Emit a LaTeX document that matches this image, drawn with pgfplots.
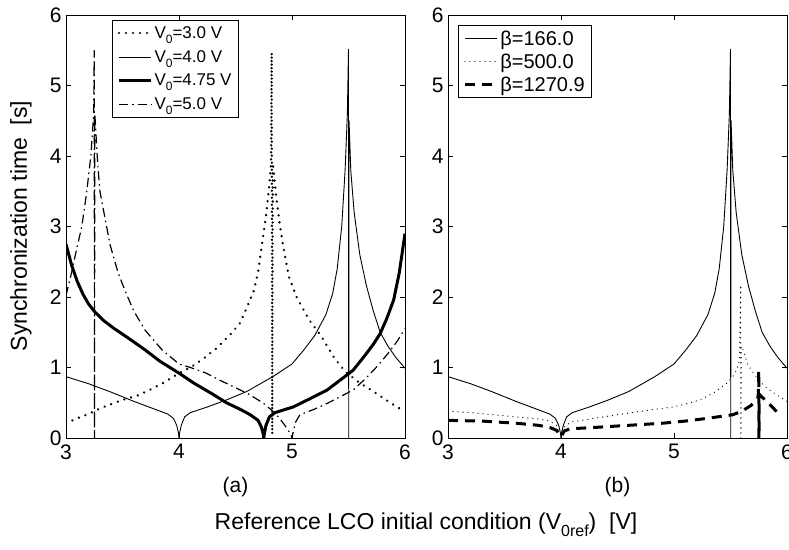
\documentclass[border=0pt]{standalone}
\usepackage{fontspec}
\setmainfont{Liberation Sans}
\usepackage{pgfplots}
\pgfplotsset{compat=1.18}

\newcommand\sub[1]{\raisebox{-0.55ex}{\fontsize{12}{12}\selectfont #1}}
\newcommand\bigsub[1]{\raisebox{-0.55ex}{\fontsize{16}{16}\selectfont #1}}

\pgfplotsset{
  panel/.style={
    scale only axis, width=339pt, height=423pt,
    xmin=3, xmax=6, ymin=0, ymax=6,
    xtick={3,4,5,6}, ytick={0,1,2,3,4,5,6},
    tick align=inside, major tick length=5pt,
    axis line style={line width=0.8pt},
    every tick/.style={black, line width=0.8pt},
    /pgf/number format/assume math mode=true,
    tick label style={font=\fontsize{21}{21}\selectfont},
    xticklabel style={yshift=-3pt},
    yticklabel style={xshift=-1pt},
    xlabel style={font=\fontsize{21}{21}\selectfont, at={(axis description cs:0.5,0)}, anchor=center, yshift=-49pt},
    legend cell align=left,
    legend image code/.code={\draw[##1] (0pt,0pt) -- (32pt,0pt);},
    legend style={draw=black, line width=0.8pt, fill=white,
      inner xsep=4pt, inner ysep=3pt},
  },
  thin/.style={black, line width=0.9pt},
  thick/.style={black, line width=3pt},
  bigdots/.style={black, line width=2.6pt, line cap=round, dash pattern=on 0.01pt off 7pt},
  finedots/.style={black, line width=1.3pt, line cap=round, dash pattern=on 0.01pt off 5pt},
  dashdot/.style={black, line width=1.2pt, dash pattern=on 9pt off 4pt on 1.5pt off 4pt},
  longdash/.style={black, line width=3pt, dash pattern=on 10pt off 7pt},
}

% synchronization time curves
\pgfplotstableread{
x y
3.00 0.21
3.10 0.28
3.20 0.34
3.30 0.42
3.40 0.48
3.50 0.54
3.63 0.60
3.75 0.69
3.86 0.78
4.00 0.92
4.11 1.01
4.22 1.13
4.33 1.27
4.45 1.46
4.54 1.63
4.60 1.85
4.66 2.08
4.70 2.35
4.73 2.70
4.77 3.15
4.80 3.60
4.815 3.90
4.82 5.47
4.825 0.05
4.83 3.90
4.86 3.43
4.89 3.05
4.92 2.74
4.97 2.30
5.04 2.00
5.15 1.68
5.26 1.44
5.38 1.12
5.48 0.93
5.60 0.78
5.75 0.63
5.87 0.50
5.97 0.40
6.00 0.37
}\vthree

\pgfplotstableread{
x y
3.00 0.87
3.20 0.77
3.40 0.65
3.60 0.52
3.80 0.40
3.90 0.34
3.95 0.28
3.98 0.18
3.995 0.07
4.00 0.00
4.005 0.07
4.02 0.18
4.05 0.30
4.10 0.36
4.25 0.44
4.42 0.54
4.60 0.66
4.83 0.87
5.00 1.05
5.10 1.24
5.20 1.45
5.30 1.75
5.36 2.05
5.40 2.40
5.44 3.00
5.47 3.80
5.49 4.60
5.50 5.52
5.502 0.00
5.505 4.50
5.52 3.80
5.55 3.20
5.60 2.60
5.66 2.15
5.72 1.80
5.78 1.50
5.85 1.30
5.92 1.14
6.00 0.99
}\vfour

\pgfplotstableread{
x y
3.00 2.75
3.05 2.45
3.10 2.22
3.15 2.04
3.20 1.90
3.26 1.78
3.33 1.67
3.42 1.56
3.54 1.43
3.70 1.25
3.83 1.09
4.00 0.92
4.13 0.78
4.30 0.62
4.42 0.50
4.55 0.40
4.63 0.33
4.70 0.25
4.73 0.15
4.745 0.06
4.75 0.00
4.755 0.06
4.77 0.18
4.80 0.30
4.85 0.36
5.01 0.44
5.15 0.55
5.31 0.68
5.45 0.85
5.54 0.96
5.65 1.18
5.72 1.33
5.78 1.48
5.84 1.70
5.90 1.96
5.95 2.35
6.00 2.90
}\vfourseventyfive

\pgfplotstableread{
x y
3.00 2.02
3.05 2.35
3.09 2.65
3.14 3.00
3.18 3.45
3.22 4.00
3.245 4.60
3.25 5.50
3.252 0.00
3.255 4.60
3.28 3.90
3.30 3.50
3.39 2.74
3.46 2.35
3.52 2.10
3.60 1.80
3.70 1.53
3.85 1.25
4.00 1.05
4.10 1.00
4.24 0.92
4.36 0.82
4.48 0.73
4.62 0.62
4.75 0.49
4.83 0.38
4.89 0.28
4.95 0.15
4.99 0.05
5.00 0.00
5.01 0.08
5.03 0.22
5.07 0.33
5.20 0.41
5.31 0.49
5.42 0.58
5.54 0.68
5.65 0.84
5.75 1.01
5.85 1.20
5.93 1.37
6.00 1.55
}\vfive

\pgfplotstableread{
x y
3.00 0.38
3.20 0.36
3.40 0.33
3.60 0.30
3.80 0.27
3.90 0.24
3.96 0.18
4.00 0.08
4.04 0.18
4.10 0.23
4.30 0.28
4.58 0.35
4.80 0.40
4.99 0.44
5.10 0.48
5.23 0.54
5.35 0.64
5.47 0.78
5.52 0.87
5.55 0.95
5.58 1.10
5.59 2.17
5.592 0.00
5.595 1.30
5.62 1.22
5.65 1.05
5.70 0.93
5.76 0.80
5.82 0.71
5.90 0.62
6.00 0.52
}\bfive

\pgfplotstableread{
x y
3.00 0.25
3.30 0.24
3.60 0.21
3.80 0.18
3.90 0.15
3.96 0.11
4.00 0.02
4.03 0.10
4.08 0.13
4.30 0.15
4.60 0.18
4.90 0.21
5.10 0.24
5.30 0.28
5.52 0.33
5.60 0.38
5.64 0.42
5.68 0.46
5.72 0.52
5.745 0.58
5.75 0.95
5.752 0.00
5.755 0.62
5.78 0.58
5.82 0.52
5.87 0.44
5.91 0.37
5.95 0.38
}\btwelve

\begin{document}
\begin{tikzpicture}

\begin{axis}[panel, at={(66pt,111pt)}, anchor=south west, xlabel={(a)},
  legend style={at={(0.136,0.988)}, anchor=north west,
    font=\fontsize{17}{17}\selectfont, row sep=6.5pt, inner xsep=5pt, inner ysep=4pt}]
  \addplot[bigdots] table {\vthree};
  \addlegendentry{V\sub{0}=3.0 V}
  \addplot[thin] table {\vfour};
  \addlegendentry{V\sub{0}=4.0 V}
  \addplot[thick] table {\vfourseventyfive};
  \addlegendentry{V\sub{0}=4.75 V}
  \addplot[dashdot] table {\vfive};
  \addlegendentry{V\sub{0}=5.0 V}
\end{axis}

\begin{axis}[panel, at={(448pt,111pt)}, anchor=south west, xlabel={(b)},
  legend style={at={(0.0295,0.976)}, anchor=north west,
    font=\fontsize{20}{20}\selectfont, row sep=3pt, inner xsep=5pt, inner ysep=3pt}]
  \addplot[thin] table {\vfour};
  \addlegendentry{β=166.0}
  \addplot[finedots] table {\bfive};
  \addlegendentry{β=500.0}
  \addplot[longdash] table {\btwelve};
  \addlegendentry{β=1270.9}
\end{axis}

\node[rotate=90, font=\fontsize{23}{23}\selectfont] at (21pt,323pt) {Synchronization time~~[s]};
\node[font=\fontsize{23}{23}\selectfont] at (426pt,24pt) {Reference LCO initial condition (V\bigsub{0ref})~~[V]};

\pgfresetboundingbox
\path[use as bounding box] (0pt,0pt) rectangle (789pt,549pt);
\end{tikzpicture}
\end{document}
